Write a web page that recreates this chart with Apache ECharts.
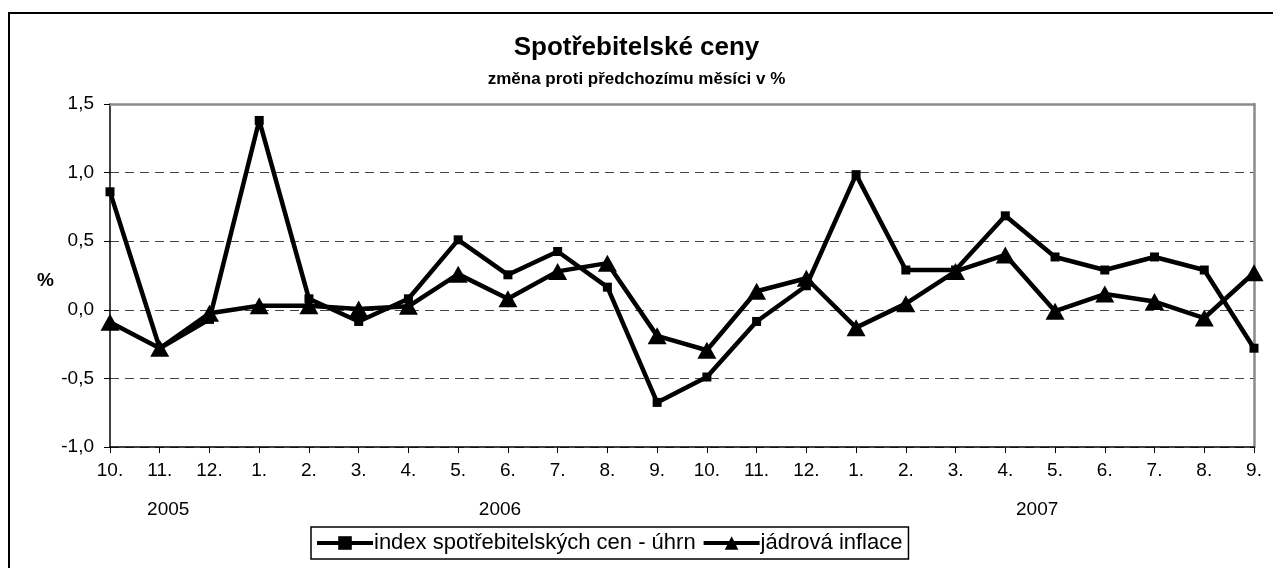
<!DOCTYPE html>
<html>
<head>
<meta charset="utf-8">
<script src="https://cdn.jsdelivr.net/npm/echarts@6/dist/echarts.min.js"></script>
<style>
html,body{margin:0;padding:0;background:#fff;}
#frame{position:absolute;left:8px;top:12px;width:1275px;height:570px;border:2.5px solid #000;box-sizing:border-box;}
#chart{position:absolute;left:0;top:0;width:1273px;height:568px;}
</style>
</head>
<body>
<div id="frame"></div>
<div id="chart"></div>
<script>
const months = ['10.','11.','12.','1.','2.','3.','4.','5.','6.','7.','8.','9.','10.','11.','12.','1.','2.','3.','4.','5.','6.','7.','8.','9.'];
const cpiTotal = [0.86,-0.28,-0.07,1.38,0.08,-0.085,0.08,0.51,0.255,0.425,0.165,-0.675,-0.49,-0.085,0.175,0.985,0.29,0.29,0.685,0.385,0.29,0.385,0.29,-0.28];
const coreInflation = [-0.09,-0.28,-0.025,0.03,0.03,0.005,0.025,0.26,0.08,0.28,0.34,-0.19,-0.295,0.135,0.23,-0.13,0.045,0.28,0.40,-0.01,0.115,0.06,-0.06,0.27];
const years = ['2005','2006','2007'];
const yearAt = [1.17, 7.84, 18.64];
const seriesNames = ['index spotřebitelských cen - úhrn','jádrová inflace'];
const titleText = 'Spotřebitelské ceny';
const subtitleText = 'změna proti předchozímu měsíci v %';

const FONT = "'Liberation Sans', Arial, sans-serif";
const chart = echarts.init(document.getElementById('chart'), null, {renderer:'canvas'});
const fmt = v => v.toFixed(1).replace('.', ',');

chart.setOption({
  animation:false,
  backgroundColor:'transparent',
  title:[
    {text:titleText,left:'center',top:30,textStyle:{fontFamily:FONT,fontSize:26,fontWeight:'bold',color:'#000'}},
    {text:subtitleText,left:'center',top:66,textStyle:{fontFamily:FONT,fontSize:17,fontWeight:'bold',color:'#000'}},
    {text:'%',left:32,top:266,textStyle:{fontFamily:FONT,fontSize:19,fontWeight:'bold',color:'#000'}}
  ],
  grid:{left:110,right:19,top:104,bottom:121,containLabel:false},
  legend:{
    left:311,top:527,
    data:seriesNames,
    itemWidth:56,itemHeight:17,itemGap:6,
    padding:[5,6,5,4],
    borderColor:'#000',borderWidth:1.5,borderRadius:0,
    lineStyle:{width:4,color:'#000'},
    textStyle:{fontFamily:FONT,fontSize:22,color:'#000',padding:[0,0,0,-4]}
  },
  xAxis:[
    {type:'category',data:months,boundaryGap:false,
     axisLine:{onZero:false,lineStyle:{color:'#000',width:1.5}},
     axisTick:{show:true,length:6,lineStyle:{color:'#000',width:1}},
     axisLabel:{fontFamily:FONT,fontSize:19,color:'#000',margin:14,interval:0},
     splitLine:{show:false}},
    {type:'category',data:months,boundaryGap:false,position:'top',
     axisLine:{onZero:false,lineStyle:{color:'#8a8a8a',width:2.5}},
     axisTick:{show:false},axisLabel:{show:false},splitLine:{show:false}}
  ],
  yAxis:[
    {type:'value',min:-1.0,max:1.5,interval:0.5,
     axisLine:{show:true,onZero:false,lineStyle:{color:'#000',width:1.5}},
     axisTick:{show:true,length:6,lineStyle:{color:'#000'}},
     axisLabel:{fontFamily:FONT,fontSize:19,color:'#000',margin:16,formatter:fmt},
     splitLine:{show:true,lineStyle:{color:'#444',width:1,type:[9,6]}}},
    {type:'value',min:-1.0,max:1.5,interval:0.5,position:'right',
     axisLine:{show:true,onZero:false,lineStyle:{color:'#8a8a8a',width:2.5}},
     axisTick:{show:false},axisLabel:{show:false},splitLine:{show:false}}
  ],
  series:[
    {name:seriesNames[0],type:'line',data:cpiTotal,symbol:'rect',symbolSize:9,
     lineStyle:{color:'#000',width:4.5},itemStyle:{color:'#000'},z:3},
    {name:seriesNames[1],type:'line',data:coreInflation,symbol:'triangle',symbolSize:[19,17],
     lineStyle:{color:'#000',width:4.5},itemStyle:{color:'#000'},z:4}
  ]
});

function placeYears(){
  const els = years.map((y,i)=>{
    const f = Math.floor(yearAt[i]), t = yearAt[i]-f;
    const p0 = chart.convertToPixel({xAxisIndex:0}, f);
    const p1 = chart.convertToPixel({xAxisIndex:0}, Math.min(f+1, months.length-1));
    const x = p0 + (p1-p0)*t;
    return {type:'text',x:x,y:510,style:{text:y,fontFamily:FONT,fontSize:19,fill:'#000',textAlign:'center',textVerticalAlign:'middle'}};
  });
  chart.setOption({graphic:els});
}
placeYears();
</script>
</body>
</html>
